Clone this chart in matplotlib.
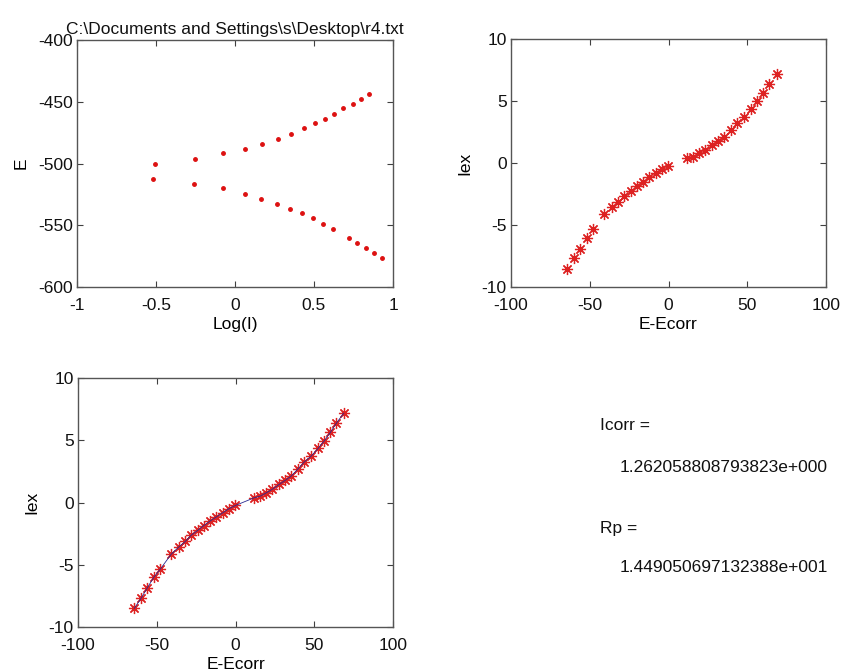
import matplotlib
matplotlib.use("Agg")
import matplotlib.pyplot as plt
import numpy as np

plt.rcParams['font.family'] = ['Liberation Sans', 'DejaVu Sans']

# ---- data ----
# Tafel data: Log(I) vs E (two branches)
logI_anodic = [-0.509, -0.253, -0.074, 0.063, 0.171, 0.274, 0.354, 0.436, 0.507,
               0.568, 0.627, 0.684, 0.745, 0.796, 0.848]
E_anodic = [-500.0, -496.5, -491.9, -488.4, -484.1, -479.8, -476.3, -471.4, -467.6,
            -463.9, -459.8, -455.2, -451.5, -447.4, -443.7]
logI_cathodic = [-0.516, -0.257, -0.078, 0.061, 0.166, 0.265, 0.347, 0.425, 0.495,
                 0.558, 0.621, 0.722, 0.773, 0.832, 0.880, 0.928]
E_cathodic = [-512.7, -516.4, -520.2, -524.8, -528.8, -532.6, -536.9, -540.4, -544.5,
              -549.0, -552.8, -560.6, -564.7, -568.4, -572.5, -576.8]

# Iex vs E-Ecorr
dE_neg = [-64.3, -60.0, -56.2, -51.9, -47.7, -40.8, -36.1, -31.9, -28.3, -24.0,
          -20.2, -16.4, -12.2, -8.1, -4.3, -0.1]
Iex_neg = [-8.51, -7.70, -6.90, -6.01, -5.34, -4.15, -3.58, -3.13, -2.64, -2.24,
           -1.86, -1.51, -1.16, -0.83, -0.51, -0.24]
dE_pos = [11.9, 15.7, 19.6, 23.2, 27.8, 31.6, 35.4, 39.5, 43.7, 48.1, 52.4, 56.4,
          60.2, 64.0, 68.7]
Iex_pos = [0.38, 0.51, 0.78, 1.05, 1.46, 1.78, 2.13, 2.67, 3.26, 3.74, 4.34, 4.96,
           5.63, 6.36, 7.17]

title_text = r"C:\Documents and Settings\s\Desktop\r4.txt"
icorr_text = "1.262058808793823e+000"
rp_text = "1.449050697132388e+001"

FS = 12.5
W, H = 843, 671
fig = plt.figure(figsize=(W / 100, H / 100), dpi=100)
fig.patch.set_facecolor('white')


def style(ax, xlim, ylim, xticks, yticks):
    ax.set_xlim(*xlim)
    ax.set_ylim(*ylim)
    ax.set_xticks(xticks)
    ax.set_yticks(yticks)
    ax.set_xticklabels([f"{t:g}" for t in xticks])
    ax.set_yticklabels([f"{t:g}" for t in yticks])
    ax.tick_params(direction='in', top=True, right=True, length=4, width=0.8,
                   color='#404040', labelsize=FS, labelcolor='#111111')
    ax.tick_params(axis='x', pad=8)
    ax.tick_params(axis='y', pad=3)
    for s in ax.spines.values():
        s.set_color('#555555')
        s.set_linewidth(1.0)


def pos(l, t, r, b):
    return [l / W, 1 - b / H, (r - l) / W, (b - t) / H]


# top-left: Tafel
ax1 = fig.add_axes(pos(77, 40, 393, 287))
ax1.plot(logI_anodic, E_anodic, '.', color='#dd1111', ms=5)
ax1.plot(logI_cathodic, E_cathodic, '.', color='#dd1111', ms=5)
style(ax1, (-1, 1), (-600, -400), [-1, -0.5, 0, 0.5, 1], [-600, -550, -500, -450, -400])
ax1.set_title(title_text, fontsize=FS, pad=4, color='#111111')
ax1.set_xlabel('Log(I)', fontsize=FS, labelpad=3)
ax1.set_ylabel('E', fontsize=FS, labelpad=7)

star = (8, 2, 0)

# top-right: Iex vs E-Ecorr
ax2 = fig.add_axes(pos(511, 39, 826, 287))
ax2.plot(dE_neg, Iex_neg, linestyle='none', marker=star, color='#dd2222', ms=8, mew=0.9)
ax2.plot(dE_pos, Iex_pos, linestyle='none', marker=star, color='#dd2222', ms=8, mew=0.9)
style(ax2, (-100, 100), (-10, 10), [-100, -50, 0, 50, 100], [-10, -5, 0, 5, 10])
ax2.set_xlabel('E-Ecorr', fontsize=FS, labelpad=3)
ax2.set_ylabel('Iex', fontsize=FS, labelpad=7)

# bottom-left: with fitted line
ax3 = fig.add_axes(pos(78, 378, 393, 627))
ax3.plot(dE_neg, Iex_neg, linestyle='none', marker=star, color='#dd2222', ms=8, mew=0.9)
ax3.plot(dE_pos, Iex_pos, linestyle='none', marker=star, color='#dd2222', ms=8, mew=0.9)
ax3.plot(list(dE_neg) + list(dE_pos), list(Iex_neg) + list(Iex_pos), '-',
         color='#2a2a90', lw=0.6, zorder=3)
style(ax3, (-100, 100), (-10, 10), [-100, -50, 0, 50, 100], [-10, -5, 0, 5, 10])
ax3.set_xlabel('E-Ecorr', fontsize=FS, labelpad=3)
ax3.set_ylabel('Iex', fontsize=FS, labelpad=7)

# text panel
fig.text(600 / W, 1 - 426 / H, 'Icorr =', fontsize=FS, va='center', ha='left', color='#111111')
fig.text(620 / W, 1 - 467 / H, icorr_text, fontsize=FS, va='center', ha='left', color='#111111')
fig.text(600 / W, 1 - 528 / H, 'Rp =', fontsize=FS, va='center', ha='left', color='#111111')
fig.text(620 / W, 1 - 567 / H, rp_text, fontsize=FS, va='center', ha='left', color='#111111')

fig.savefig('out.png', dpi=100, facecolor='white')
